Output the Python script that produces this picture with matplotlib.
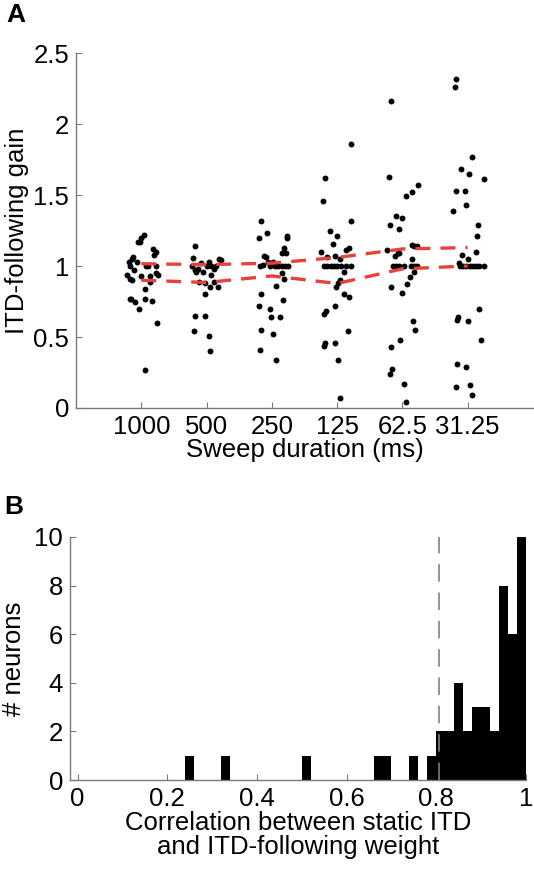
import numpy as np
import matplotlib
matplotlib.use("Agg")
from matplotlib import pyplot as plt

plt.rcParams['font.family'] = ['Liberation Sans', 'DejaVu Sans']

# ---- panel A data: gain per neuron and horizontal jitter per sweep duration
durations = ['1000', '500', '250', '125', '62.5', '31.25']

gain_1000 = [1.22, 1.20, 1.17, 1.17, 1.12, 1.10, 1.08, 1.03, 1.05, 1.06, 1.03, 1.00, 1.00, 1.00, 1.00,
             0.935, 0.91, 0.90, 0.93, 0.95, 0.935, 0.93, 0.84, 0.89, 0.97, 0.77, 0.77, 0.75, 0.77,
             0.755, 0.70, 0.60, 0.27]
jit_1000 = [0.04, 0.0, -0.05, -0.02, 0.18, 0.22, 0.20, -0.19, -0.14, -0.12, -0.06, -0.17, 0.08, 0.11, 0.22,
            -0.22, -0.18, -0.14, 0.0, 0.22, 0.26, 0.14, 0.06, 0.14, -0.11, -0.18, -0.15, -0.09, 0.06,
            0.16, -0.03, 0.24, 0.05]

gain_500 = [1.14, 1.055, 1.00, 0.97, 0.98, 1.02, 1.00, 1.03, 1.00, 1.00, 1.05, 1.04, 0.98, 0.935,
            0.89, 0.88, 0.89, 0.85, 0.85, 0.80, 0.645, 0.65, 0.54, 0.51, 0.40, 0.96, 0.955]
jit_500 = [-0.18, -0.21, -0.23, -0.18, -0.13, -0.08, 0.0, 0.04, 0.07, 0.15, 0.19, 0.22, 0.12, 0.07,
           -0.11, -0.02, 0.11, 0.06, 0.17, -0.02, -0.18, -0.03, -0.19, 0.03, 0.05, -0.16, -0.05]

gain_250 = [1.32, 1.20, 1.23, 1.07, 1.06, 1.00, 1.01, 1.03, 1.03, 1.00, 1.00, 1.00, 1.00, 1.00, 1.00,
            1.21, 1.20, 1.13, 1.09, 1.09, 0.95, 0.91, 0.86, 0.80, 0.72, 0.70, 0.64, 0.64, 0.76,
            0.55, 0.52, 0.41, 0.34]
jit_250 = [-0.17, -0.20, -0.08, -0.12, -0.09, -0.18, -0.13, -0.06, 0.02, -0.03, 0.05, 0.10, 0.15, 0.20, 0.25,
           0.24, 0.24, 0.18, 0.15, 0.22, 0.15, 0.18, 0.07, -0.16, -0.19, -0.03, -0.01, 0.12, 0.17,
           -0.17, 0.02, -0.18, 0.06]

gain_125 = [1.62, 1.46, 1.86, 1.32, 1.25, 1.21, 1.155, 1.10, 1.06, 1.07, 1.05, 1.11, 1.125,
            1.00, 1.00, 1.00, 1.00, 1.00, 1.00, 1.00, 1.00, 0.96, 0.90, 0.88, 0.855, 0.80, 0.78,
            0.72, 0.68, 0.66, 0.46, 0.44, 0.46, 0.54, 0.34, 0.07]
jit_125 = [-0.18, -0.21, 0.22, 0.22, -0.11, 0.0, -0.06, -0.24, -0.15, -0.03, 0.05, 0.13, 0.18,
           -0.20, -0.15, -0.10, -0.05, 0.0, 0.06, 0.13, 0.21, 0.11, 0.04, 0.02, -0.02, 0.11, 0.18,
           -0.03, -0.17, -0.20, -0.19, -0.20, -0.03, 0.17, 0.02, 0.05]

gain_625 = [2.16, 1.63, 1.57, 1.52, 1.49, 1.35, 1.34, 1.29, 1.26, 1.11, 1.07, 1.09, 1.09, 1.15,
            1.14, 1.14, 1.05, 1.00, 1.00, 1.00, 1.00, 1.00, 1.00, 1.00, 0.96, 0.92, 0.87, 0.855,
            0.81, 0.61, 0.55, 0.43, 0.48, 0.275, 0.24, 0.17, 0.045]
jit_625 = [-0.17, -0.20, 0.24, 0.14, 0.06, -0.10, 0.0, -0.19, -0.05, -0.23, -0.12, -0.07, -0.05, 0.15,
           0.18, 0.22, 0.15, -0.15, -0.10, -0.05, 0.02, 0.13, 0.18, 0.23, 0.18, 0.12, 0.07, -0.18,
           -0.01, 0.17, 0.19, -0.17, -0.03, -0.16, -0.19, 0.02, 0.05]

gain_3125 = [2.32, 2.26, 1.77, 1.68, 1.65, 1.61, 1.53, 1.53, 1.43, 1.39, 1.29, 1.21, 1.10, 1.08,
             1.05, 1.02, 1.00, 1.00, 1.00, 1.00, 1.00, 1.00, 1.00, 1.00, 0.62, 0.64, 0.61, 0.70,
             0.48, 0.31, 0.29, 0.15, 0.16, 0.09]
jit_3125 = [-0.18, -0.20, 0.07, -0.10, 0.02, 0.25, -0.18, -0.04, -0.02, -0.22, 0.16, 0.15, 0.13, -0.08,
            0.01, -0.14, -0.12, -0.07, -0.02, 0.03, 0.08, 0.13, 0.18, 0.25, -0.17, -0.15, 0.0, 0.18,
            0.20, -0.17, -0.02, -0.18, 0.03, 0.06]

gains = [gain_1000, gain_500, gain_250, gain_125, gain_625, gain_3125]
jitters = [jit_1000, jit_500, jit_250, jit_125, jit_625, jit_3125]

upper_line = [1.016, 1.01, 1.02, 1.06, 1.12, 1.13]
lower_line = [0.90, 0.884, 0.93, 0.877, 0.98, 1.00]

# ---- panel B data: histogram of correlations (bin left edge, count)
bin_left = [0.24, 0.32, 0.50, 0.66, 0.68, 0.74, 0.78, 0.80, 0.82, 0.84, 0.86, 0.88, 0.90, 0.92, 0.94, 0.96, 0.98]
bin_count = [1, 1, 1, 1, 1, 1, 1, 2, 2, 4, 2, 3, 3, 2, 8, 6, 10]
bin_width = 0.02
criterion = 0.805

spine_col = '#7a7a7a'
fs = 18.5

fig = plt.figure(figsize=(5.34, 8.81), dpi=100)

axA = fig.add_axes([0.1423, 0.5369, 0.8557, 0.4029])
for i in range(len(durations)):
    xs = np.array(jitters[i]) + i + 1
    axA.scatter(xs, gains[i], s=18, c='k', linewidths=0, zorder=3)
xpos = np.arange(1, len(durations) + 1)
axA.plot(xpos, upper_line, color='#e8413a', lw=2.4, dashes=(4.5, 3), zorder=4)
axA.plot(xpos, lower_line, color='#e8413a', lw=2.4, dashes=(4.5, 3), zorder=4)
axA.set_xlim(0, 7)
axA.set_ylim(0, 2.5)
axA.set_xticks(xpos)
axA.set_xticklabels(durations)
axA.set_yticks([0, 0.5, 1, 1.5, 2, 2.5])
axA.set_yticklabels(['0', '0.5', '1', '1.5', '2', '2.5'])
axA.set_xlabel('Sweep duration (ms)', fontsize=fs, labelpad=-1)
axA.set_ylabel('ITD-following gain', fontsize=fs, labelpad=3)

axB = fig.add_axes([0.1311, 0.1146, 0.8539, 0.2759])
axB.bar(bin_left, bin_count, width=bin_width, align='edge', color='k', edgecolor='none', zorder=2)
axB.plot([criterion, criterion], [0, 10], color='#808080', lw=1.2, dashes=(10.5, 6.5), zorder=3)
axB.set_xlim(-0.017, 1.0)
axB.set_ylim(0, 10)
axB.set_xticks([0, 0.2, 0.4, 0.6, 0.8, 1])
axB.set_xticklabels(['0', '0.2', '0.4', '0.6', '0.8', '1'])
axB.set_yticks([0, 2, 4, 6, 8, 10])
axB.set_xlabel('Correlation between static ITD\nand ITD-following weight', fontsize=fs,
               labelpad=0, linespacing=1.0)
axB.set_ylabel('# neurons', fontsize=fs, labelpad=6)

for ax in (axA, axB):
    for side in ('top', 'right'):
        ax.spines[side].set_visible(False)
    for side in ('left', 'bottom'):
        ax.spines[side].set_color(spine_col)
        ax.spines[side].set_linewidth(1.0)
    ax.tick_params(direction='in', length=4, width=0.8, color=spine_col, labelsize=fs, pad=5)

fig.text(0.012, 0.997, 'A', fontsize=19, fontweight='bold', va='top', ha='left')
fig.text(0.008, 0.438, 'B', fontsize=19, fontweight='bold', va='top', ha='left')

fig.savefig('out.png', dpi=100)
